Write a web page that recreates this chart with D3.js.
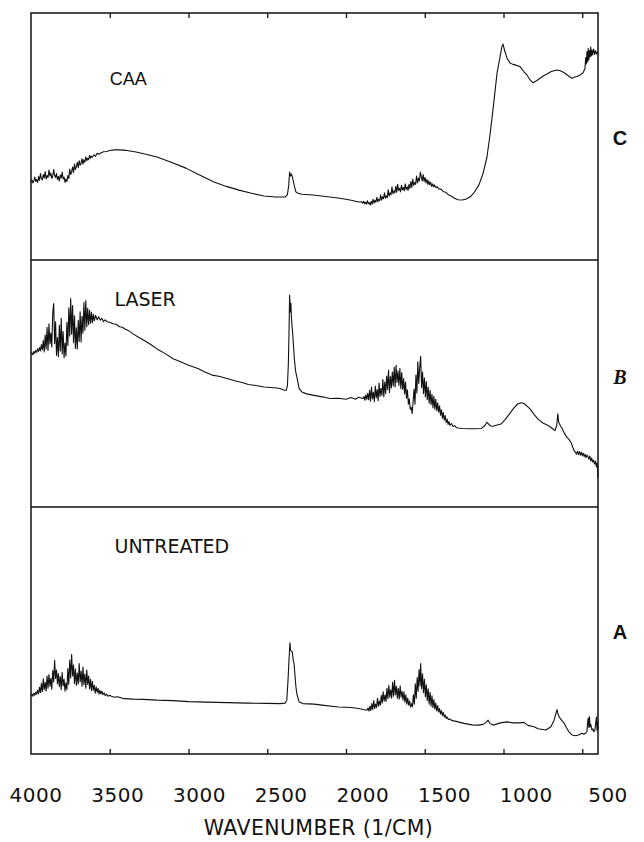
<!DOCTYPE html>
<html><head><meta charset="utf-8">
<script src="https://cdn.jsdelivr.net/npm/d3@7/dist/d3.min.js"></script>
<style>body{margin:0;background:#fff}svg{display:block}</style>
</head><body><svg id="chart" width="644" height="842"></svg>
<script>
// ---------------- data ----------------
const panelNames = ["CAA", "LASER", "UNTREATED"];
const panelLetters = ["C", "B", "A"];
const tickValues = [3500, 3000, 2500, 2000, 1500, 1000, 500];
const tickLabels = [4000, 3500, 3000, 2500, 2000, 1500, 1000, 500];
const axisTitle = "WAVENUMBER (1/CM)";

// [wavenumber (1/cm), relative intensity (% of panel height)]
const caa = [
[4000,31.6],[3994,32.4],[3988,31.2],[3982,32.0],[3976,33.6],[3970,31.8],[3964,32.6],[3958,31.4],[3952,33.8],[3946,32.2],
[3940,35.0],[3934,33.0],[3928,32.4],[3922,34.6],[3916,33.2],[3910,35.8],[3904,32.8],[3898,34.2],[3892,33.4],[3886,36.4],
[3880,34.0],[3874,35.2],[3868,33.0],[3862,34.0],[3856,36.6],[3850,34.2],[3844,33.4],[3838,35.0],[3832,32.6],[3826,33.8],
[3820,32.0],[3814,34.4],[3808,33.2],[3802,35.6],[3796,32.8],[3790,33.6],[3784,31.4],[3778,32.8],[3772,31.8],[3766,34.2],
[3760,33.0],[3754,36.8],[3748,34.6],[3742,35.8],[3736,37.6],[3730,35.4],[3724,38.8],[3718,36.6],[3712,37.8],[3706,39.6],
[3700,37.4],[3694,40.2],[3688,38.4],[3682,39.2],[3676,41.0],[3670,38.8],[3664,40.6],[3658,39.6],[3652,41.8],[3646,40.2],
[3640,41.2],[3634,40.6],[3628,42.4],[3622,41.2],[3616,42.0],[3610,41.6],[3600,42.6],[3590,42.0],[3580,43.2],[3570,42.8],
[3560,43.2],[3540,43.8],[3520,43.9],[3500,44.3],[3470,44.6],[3435,44.6],[3400,44.4],[3333,43.7],[3270,42.8],[3200,41.7],
[3110,39.6],[3016,37.2],[2930,34.4],[2838,31.6],[2760,29.8],[2679,28.3],[2600,27.0],[2521,25.9],[2450,25.5],[2387,25.5],
[2372,26.5],[2364,30.0],[2358,35.6],[2352,34.0],[2346,34.8],[2338,33.0],[2328,30.0],[2318,27.6],[2305,27.0],[2280,26.6],
[2210,26.3],[2130,25.7],[2051,25.1],[2000,24.6],[1968,24.2],[1940,23.8],[1917,23.5],[1900,23.6],[1894,23.0],[1888,23.8],
[1882,22.8],[1876,23.4],[1870,22.6],[1864,24.0],[1858,22.8],[1852,23.2],[1846,22.2],[1840,23.8],[1834,22.6],[1828,24.6],
[1822,23.0],[1816,24.2],[1810,23.4],[1804,25.4],[1798,23.6],[1792,24.6],[1786,24.0],[1780,26.4],[1774,24.2],[1768,25.6],
[1762,24.8],[1756,27.2],[1750,25.0],[1744,26.0],[1738,25.2],[1732,28.4],[1726,25.8],[1720,27.2],[1714,26.4],[1708,29.6],
[1702,26.8],[1696,28.0],[1690,27.2],[1684,29.8],[1678,27.4],[1672,30.6],[1666,28.2],[1660,29.0],[1654,27.6],[1648,30.2],
[1642,28.4],[1636,29.4],[1630,28.0],[1624,30.8],[1618,28.6],[1612,29.6],[1606,28.2],[1600,30.6],[1594,29.0],[1588,31.8],
[1582,29.4],[1576,32.8],[1570,30.2],[1564,31.4],[1558,30.6],[1552,34.0],[1546,31.2],[1540,33.2],[1534,32.0],[1528,35.6],
[1522,33.8],[1516,32.0],[1510,34.6],[1504,31.8],[1498,33.4],[1492,31.2],[1486,32.6],[1480,30.6],[1474,32.0],[1468,30.4],
[1462,31.4],[1456,29.8],[1450,30.8],[1444,29.6],[1438,30.4],[1430,29.4],[1420,29.6],[1410,28.8],[1395,28.6],[1380,27.6],
[1365,27.4],[1350,26.4],[1335,26.0],[1314,25.1],[1290,24.4],[1263,24.3],[1240,24.6],[1213,25.5],[1185,27.4],[1156,30.4],
[1130,35.0],[1105,41.7],[1085,51.0],[1067,60.7],[1041,75.7],[1022,82.2],[1010,86.4],[1003,87.4],[992,84.6],[978,81.8],
[959,79.8],[940,79.2],[927,79.0],[910,78.6],[895,78.3],[870,76.2],[851,74.9],[830,72.8],[813,71.8],[790,72.6],
[768,73.6],[745,74.6],[724,75.3],[700,76.2],[680,76.6],[660,76.9],[640,76.6],[620,76.0],[597,75.0],[580,74.2],
[565,73.6],[550,74.0],[530,74.4],[514,74.9],[495,75.8],[483,77.4],[478,82.0],[474,79.4],[470,84.4],[466,80.2],
[462,85.6],[458,81.0],[454,84.8],[450,82.2],[446,86.2],[442,82.6],[438,85.0],[434,83.0],[428,85.4],[422,83.2],
[416,84.8],[410,83.4],[404,84.2],[400,83.8]
];

const laser = [
[4000,62.0],[3994,62.4],[3988,61.6],[3982,63.0],[3976,62.2],[3970,63.4],[3964,62.6],[3958,64.0],[3952,63.0],[3946,64.6],
[3940,63.2],[3934,65.8],[3928,63.6],[3922,67.4],[3916,62.8],[3910,69.6],[3904,64.0],[3898,72.8],[3892,63.4],[3886,74.2],
[3880,66.0],[3874,70.4],[3868,64.8],[3862,78.6],[3856,82.4],[3850,66.2],[3844,75.0],[3838,61.4],[3832,68.6],[3826,60.8],
[3820,73.6],[3814,63.2],[3808,76.4],[3802,62.0],[3796,71.0],[3790,60.4],[3784,66.4],[3778,61.2],[3772,74.8],[3766,65.4],
[3760,80.6],[3754,69.2],[3748,84.4],[3742,70.0],[3736,81.6],[3730,66.6],[3724,77.4],[3718,64.2],[3712,72.6],[3706,64.0],
[3700,75.6],[3694,67.0],[3688,79.0],[3682,66.8],[3676,77.2],[3670,70.4],[3664,82.8],[3658,71.6],[3652,83.6],[3646,73.0],
[3640,80.4],[3634,73.8],[3628,79.6],[3622,74.4],[3616,78.8],[3610,74.6],[3604,78.0],[3598,75.4],[3590,77.6],[3580,75.8],
[3570,77.0],[3560,75.6],[3550,76.4],[3540,75.0],[3530,75.8],[3517,75.0],[3500,74.8],[3480,74.2],[3460,74.0],[3437,73.0],
[3420,72.8],[3400,72.0],[3380,71.4],[3350,70.0],[3320,68.8],[3283,67.5],[3240,65.8],[3200,64.0],[3150,62.2],[3098,60.0],
[3050,58.8],[3000,57.4],[2940,56.1],[2900,54.8],[2850,53.4],[2800,52.8],[2756,52.0],[2700,51.0],[2660,50.4],[2620,49.6],
[2571,49.2],[2520,48.6],[2480,48.4],[2440,48.2],[2419,48.0],[2395,47.4],[2380,47.2],[2372,49.0],[2366,58.0],[2362,70.0],
[2358,85.8],[2354,79.0],[2350,82.5],[2346,76.0],[2340,71.5],[2334,66.0],[2328,60.0],[2320,55.0],[2311,52.4],[2298,48.0],
[2280,46.6],[2250,45.8],[2203,45.2],[2150,44.6],[2102,43.9],[2050,44.0],[2000,43.6],[1968,44.3],[1940,43.6],[1920,44.4],
[1892,43.9],[1886,44.8],[1880,43.2],[1874,45.4],[1868,43.6],[1862,46.0],[1856,43.4],[1850,47.2],[1844,42.8],[1838,48.6],
[1832,43.8],[1826,46.4],[1820,42.6],[1814,49.0],[1808,44.2],[1802,47.6],[1796,43.0],[1790,50.2],[1784,44.8],[1778,48.0],
[1772,45.2],[1766,51.6],[1760,44.6],[1754,50.6],[1748,46.0],[1742,53.0],[1736,47.6],[1730,55.4],[1724,46.4],[1718,52.8],
[1712,48.2],[1706,54.6],[1700,49.0],[1694,56.6],[1688,48.6],[1682,57.4],[1676,50.4],[1670,55.0],[1664,49.2],[1658,56.2],
[1652,48.0],[1646,54.4],[1640,47.6],[1634,52.0],[1628,45.8],[1622,50.6],[1616,44.0],[1610,47.4],[1604,41.6],[1598,43.8],
[1592,39.6],[1586,40.4],[1580,37.8],[1574,42.6],[1568,47.8],[1562,41.6],[1556,53.4],[1550,46.2],[1544,58.8],[1538,50.0],
[1532,56.4],[1526,61.0],[1520,48.4],[1514,54.6],[1508,46.0],[1502,52.2],[1496,44.6],[1490,50.8],[1484,43.4],[1478,48.6],
[1472,42.0],[1466,47.2],[1460,41.4],[1454,45.6],[1448,40.2],[1442,44.8],[1436,39.6],[1430,43.6],[1424,39.0],[1418,42.2],
[1412,38.4],[1406,41.0],[1400,37.2],[1394,39.4],[1388,36.0],[1382,38.2],[1376,35.2],[1370,37.0],[1364,34.2],[1358,35.6],
[1352,33.4],[1346,34.6],[1340,33.0],[1330,33.8],[1320,32.6],[1310,32.9],[1300,32.2],[1289,32.0],[1260,31.8],[1220,31.7],
[1180,31.7],[1140,31.8],[1118,33.0],[1106,34.3],[1092,33.4],[1080,32.8],[1067,32.7],[1040,33.2],[1016,33.6],[990,35.4],
[962,37.7],[935,40.0],[910,41.7],[890,42.2],[870,41.9],[850,40.8],[832,39.7],[805,37.4],[781,35.6],[750,34.0],
[713,32.9],[690,31.8],[673,30.9],[662,33.0],[655,37.7],[650,34.5],[644,33.6],[636,32.6],[629,32.0],[615,30.0],
[597,28.2],[585,27.4],[571,26.1],[560,24.2],[550,22.6],[543,22.1],[536,21.4],[530,22.6],[524,21.2],[518,22.4],
[512,21.0],[506,22.2],[500,20.8],[494,21.8],[488,20.4],[482,21.4],[476,20.0],[470,21.0],[464,20.4],[458,19.4],
[452,20.6],[446,18.6],[440,19.8],[434,18.2],[428,19.0],[422,17.4],[416,18.6],[410,16.2],[406,17.8],[402,15.0],[400,11.8]
];

const untreated = [
[4000,23.6],[3994,24.2],[3988,23.4],[3982,24.6],[3976,23.8],[3970,25.0],[3964,24.2],[3958,25.8],[3952,24.4],[3946,27.0],
[3940,24.8],[3934,28.6],[3928,25.2],[3922,30.4],[3916,26.0],[3910,29.0],[3904,25.4],[3898,31.6],[3892,26.6],[3886,32.2],
[3880,27.4],[3874,30.6],[3868,26.2],[3862,33.8],[3856,29.2],[3850,37.9],[3844,30.6],[3838,34.0],[3832,28.4],[3826,32.6],
[3820,27.2],[3814,31.4],[3808,26.0],[3802,33.0],[3796,27.6],[3790,30.2],[3784,25.4],[3778,28.8],[3772,26.0],[3766,34.6],
[3760,28.2],[3754,38.0],[3748,30.8],[3742,40.3],[3736,31.6],[3730,36.0],[3724,28.6],[3718,34.4],[3712,27.8],[3706,32.8],
[3700,28.4],[3694,36.6],[3688,29.2],[3682,33.6],[3676,27.4],[3670,35.2],[3664,28.0],[3658,32.4],[3652,26.6],[3646,34.0],
[3640,28.2],[3634,31.6],[3628,26.4],[3622,30.2],[3616,25.6],[3610,29.4],[3604,25.8],[3598,27.8],[3592,24.6],[3586,27.2],
[3580,25.0],[3574,26.6],[3568,24.2],[3562,25.8],[3556,24.4],[3550,25.4],[3544,24.0],[3536,24.8],[3528,23.6],[3520,24.2],
[3510,23.4],[3500,23.8],[3490,23.4],[3470,23.0],[3450,23.2],[3410,22.4],[3350,22.2],[3283,22.1],[3200,21.8],[3098,21.6],
[3000,21.2],[2889,21.0],[2750,20.8],[2622,20.6],[2500,20.5],[2419,20.4],[2387,20.6],[2376,21.8],[2368,30.0],[2362,37.9],
[2356,45.0],[2352,42.0],[2347,41.6],[2341,41.3],[2335,38.0],[2330,36.6],[2324,32.0],[2318,27.2],[2311,24.0],[2298,21.1],
[2273,20.4],[2203,20.2],[2152,19.8],[2050,19.0],[1968,18.8],[1920,18.4],[1892,18.0],[1867,17.7],[1860,18.6],[1854,17.4],
[1848,19.4],[1842,17.6],[1836,20.4],[1830,18.0],[1824,21.6],[1818,18.4],[1812,20.2],[1806,18.8],[1800,22.6],[1794,19.4],
[1788,21.4],[1782,19.8],[1776,23.8],[1770,20.6],[1764,25.2],[1758,21.4],[1752,24.0],[1746,21.2],[1740,26.6],[1734,22.4],
[1728,27.8],[1722,23.0],[1716,26.0],[1710,22.6],[1704,29.0],[1698,23.4],[1692,29.8],[1686,24.0],[1680,27.4],[1674,22.6],
[1668,26.6],[1662,22.2],[1656,27.6],[1650,23.0],[1644,25.4],[1638,21.8],[1632,25.2],[1626,21.0],[1620,24.0],[1614,20.2],
[1608,22.6],[1602,19.8],[1596,21.4],[1590,19.0],[1584,20.4],[1578,19.1],[1572,24.0],[1566,20.2],[1560,28.4],[1554,22.6],
[1548,31.0],[1542,25.4],[1536,34.2],[1530,27.6],[1526,36.6],[1520,26.4],[1514,32.5],[1508,24.8],[1502,30.2],[1496,23.2],
[1490,28.0],[1484,21.6],[1478,26.4],[1472,20.2],[1466,25.0],[1460,19.4],[1454,23.6],[1448,18.8],[1442,22.0],[1436,18.2],
[1430,20.6],[1424,17.4],[1418,19.6],[1412,17.0],[1406,18.4],[1400,16.2],[1394,17.6],[1388,15.6],[1382,16.8],[1376,15.0],
[1370,15.8],[1364,14.4],[1358,15.0],[1350,14.0],[1340,14.2],[1330,13.6],[1316,13.4],[1300,13.2],[1289,13.0],[1250,12.4],
[1200,11.8],[1160,11.7],[1130,12.0],[1110,12.8],[1098,13.7],[1086,12.4],[1067,11.7],[1050,12.0],[1020,12.6],[978,13.0],
[940,12.6],[900,12.6],[870,12.8],[845,11.6],[806,11.0],[780,10.2],[731,9.7],[699,11.0],[680,13.5],[667,16.4],
[660,18.0],[654,16.2],[645,14.8],[630,13.6],[616,12.6],[600,10.6],[585,9.0],[565,7.7],[540,7.4],[520,7.8],
[502,8.4],[490,8.0],[476,8.6],[470,9.2],[466,12.8],[462,14.6],[458,10.6],[454,15.2],[450,11.0],[446,12.0],
[438,9.7],[432,10.2],[426,9.0],[420,9.6],[414,12.6],[410,15.0],[406,9.4],[402,13.0],[400,10.0]
];

const spectra = [caa, laser, untreated];

// ---------------- layout ----------------
const svg = d3.select("#chart");
const plotLeft = 31, plotRight = 598, plotTop = 13, plotBottom = 754;

const x = d3.scaleLinear().domain([4000, 400]).range([plotLeft, plotRight]);
const band = d3.scaleBand().domain(panelNames).range([plotTop, plotBottom]);
const labelScale = d3.scaleLinear().domain([4000, 500]).range([35.5, 607.5]);

const labelFont = "'DejaVu Sans', Verdana, sans-serif";

panelNames.forEach((name, i) => {
  const y0 = band(name), h = band.bandwidth();
  const y = d3.scaleLinear().domain([0, 100]).range([y0 + h, y0]);
  const line = d3.line().x(d => x(d[0])).y(d => y(d[1]));

  svg.append("path")
    .datum(spectra[i])
    .attr("d", line)
    .attr("fill", "none")
    .attr("stroke", "#111")
    .attr("stroke-width", 1.1)
    .attr("stroke-linejoin", "round");

  // panel name
  svg.append("text")
    .attr("x", x(i === 0 ? 3500 : 3470))
    .attr("y", y0 + (i === 0 ? 72 : 46))
    .attr("font-family", i === 0 ? "'Liberation Sans', Arial, sans-serif" : labelFont)
    .attr("font-size", i === 0 ? 18 : 19)
    .attr("fill", "#111")
    .text(name);

  // right letter
  svg.append("text")
    .attr("x", 620)
    .attr("y", y0 + h / 2 + (i === 1 ? 0 : 8))
    .attr("text-anchor", "middle")
    .attr("font-family", i === 1 ? "'Liberation Serif', 'Times New Roman', serif" : "'Liberation Sans Narrow', 'Liberation Sans', Arial, sans-serif")
    .attr("font-style", i === 1 ? "italic" : "normal")
    .attr("font-weight", "bold")
    .attr("font-size", 20)
    .attr("fill", "#111")
    .text(panelLetters[i]);
});

// frame + separators
svg.append("rect")
  .attr("x", plotLeft).attr("y", plotTop)
  .attr("width", plotRight - plotLeft).attr("height", plotBottom - plotTop)
  .attr("fill", "none").attr("stroke", "#111").attr("stroke-width", 1.5);

svg.selectAll("line.sep")
  .data(panelNames.slice(1))
  .join("line")
  .attr("class", "sep")
  .attr("x1", plotLeft).attr("x2", plotRight)
  .attr("y1", d => band(d)).attr("y2", d => band(d))
  .attr("stroke", "#111").attr("stroke-width", 1.4);

// inward ticks on top and bottom
const topAxis = svg.append("g").attr("transform", `translate(0,${plotTop})`)
  .call(d3.axisTop(x).tickValues(tickValues).tickSize(-5).tickFormat(""));
const botAxis = svg.append("g").attr("transform", `translate(0,${plotBottom})`)
  .call(d3.axisBottom(x).tickValues(tickValues).tickSize(-5).tickFormat(""));
[topAxis, botAxis].forEach(g => {
  g.select(".domain").remove();
  g.selectAll(".tick line").attr("stroke", "#111").attr("stroke-width", 1.3);
});

// tick labels
const lab = svg.append("g").attr("transform", `translate(0,${plotBottom})`)
  .call(d3.axisBottom(labelScale).tickValues(tickLabels).tickSize(0).tickFormat(d3.format("d")));
lab.select(".domain").remove();
lab.selectAll(".tick text")
  .attr("y", 48).attr("dy", 0)
  .attr("font-family", labelFont)
  .attr("font-size", 20)
  .attr("letter-spacing", 0.5)
  .attr("fill", "#111");

// axis title
svg.append("text")
  .attr("x", (plotLeft + plotRight) / 2 + 4)
  .attr("y", 835)
  .attr("text-anchor", "middle")
  .attr("font-family", labelFont)
  .attr("font-size", 20.5)
  .attr("letter-spacing", 0.4)
  .attr("fill", "#111")
  .text(axisTitle);
</script>
</body></html>
